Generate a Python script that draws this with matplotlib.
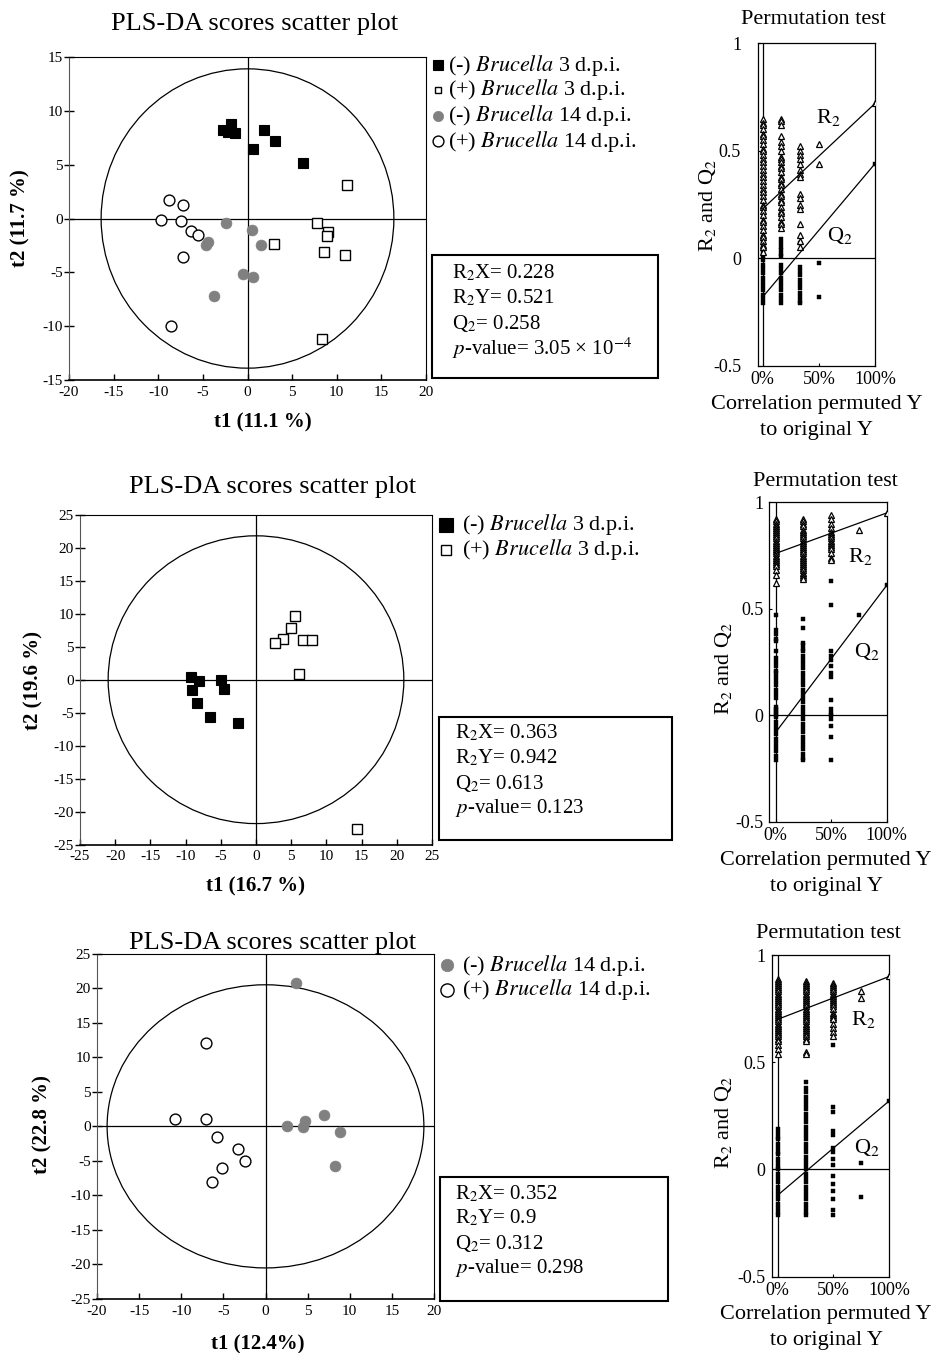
import matplotlib
matplotlib.use("Agg")
import matplotlib.pyplot as plt
from matplotlib.patches import Ellipse, Rectangle
from matplotlib.lines import Line2D

plt.rcParams['font.family'] = ['Liberation Serif', 'DejaVu Serif']
plt.rcParams['mathtext.fontset'] = 'stix'
plt.rcParams['axes.unicode_minus'] = False

W, H = 941, 1353

# ---------------- scores scatter data ----------------
top_neg3_t1 = [-2.7, -2.2, -1.9, -1.4, 1.8, 3.1, 0.6, 6.2]
top_neg3_t2 = [8.2, 8.0, 8.8, 7.9, 8.2, 7.2, 6.5, 5.2]
top_pos3_t1 = [11.2, 7.8, 9.0, 8.9, 8.6, 10.9, 3.0, 8.3]
top_pos3_t2 = [3.1, -0.4, -1.3, -1.6, -3.1, -3.4, -2.4, -11.2]
top_neg14_t1 = [-2.4, 0.5, 1.5, -4.4, -4.7, -0.5, 0.6, -3.7]
top_neg14_t2 = [-0.4, -1.1, -2.5, -2.2, -2.5, -5.2, -5.4, -7.2]
top_pos14_t1 = [-8.8, -7.2, -9.7, -7.4, -6.3, -5.5, -7.2, -8.6]
top_pos14_t2 = [1.7, 1.3, -0.1, -0.2, -1.2, -1.5, -3.6, -10.0]

mid_neg3_t1 = [-9.2, -8.1, -9.1, -8.4, -6.5, -5.0, -4.5, -2.6]
mid_neg3_t2 = [0.35, -0.15, -1.5, -3.5, -5.6, -0.1, -1.4, -6.5]
mid_pos3_t1 = [5.6, 5.0, 3.9, 2.7, 6.7, 8.0, 6.1, 14.4]
mid_pos3_t2 = [9.6, 7.8, 6.2, 5.5, 6.0, 6.0, 0.9, -22.6]

bot_neg14_t1 = [3.6, 2.5, 4.7, 4.5, 7.0, 8.8, 8.2]
bot_neg14_t2 = [20.7, 0.05, 0.8, -0.1, 1.7, -0.8, -5.7]
bot_pos14_t1 = [-7.1, -10.8, -7.1, -5.7, -3.3, -2.4, -5.2, -6.3]
bot_pos14_t2 = [12.0, 1.0, 1.0, -1.6, -3.3, -5.0, -6.0, -8.1]

# Hotelling ellipse semi-axes (t1, t2)
top_ellipse = (16.4, 13.9)
mid_ellipse = (21.0, 21.8)
bot_ellipse = (18.8, 20.5)

top_stats = ["R$_2$X= 0.228", "R$_2$Y= 0.521", "Q$_2$= 0.258",
             "$p$-value= 3.05 × 10$^{-4}$"]
mid_stats = ["R$_2$X= 0.363", "R$_2$Y= 0.942", "Q$_2$= 0.613", "$p$-value= 0.123"]
bot_stats = ["R$_2$X= 0.352", "R$_2$Y= 0.9", "Q$_2$= 0.312", "$p$-value= 0.298"]

# ---------------- permutation test data ----------------
p1_cols = [0.0, 0.16, 0.33, 0.5, 1.0]
p1_r2 = [[0.65, 0.63, 0.62, 0.6, 0.58, 0.57, 0.55, 0.53, 0.51, 0.5, 0.48, 0.46, 0.45,
          0.43, 0.41, 0.39, 0.38, 0.36, 0.34, 0.32, 0.31, 0.29, 0.27, 0.25, 0.24, 0.22,
          0.2, 0.18, 0.17, 0.15, 0.13, 0.11, 0.1, 0.08, 0.06, 0.05, 0.03],
         [0.65, 0.64, 0.62, 0.57, 0.54, 0.52, 0.5, 0.47, 0.46, 0.45, 0.43, 0.42, 0.4,
          0.38, 0.37, 0.35, 0.34, 0.32, 0.3, 0.29, 0.27, 0.26, 0.24, 0.22, 0.21, 0.19,
          0.17, 0.16, 0.14],
         [0.52, 0.5, 0.48, 0.46, 0.44, 0.41, 0.39, 0.38, 0.3, 0.28, 0.25, 0.23, 0.16,
          0.11, 0.08, 0.05],
         [0.53, 0.44],
         [0.72]]
p1_q2 = [[0.1, 0.08, 0.05, 0.03, 0.01, -0.01, -0.03, -0.05, -0.07, -0.09, -0.11, -0.13,
          -0.15, -0.17, -0.19, -0.21],
         [0.09, 0.07, 0.05, 0.04, 0.02, 0.01, -0.03, -0.05, -0.07, -0.09, -0.11, -0.13,
          -0.15, -0.17, -0.19, -0.21],
         [0.07, -0.04, -0.06, -0.08, -0.1, -0.12, -0.14, -0.16, -0.18, -0.2, -0.21],
         [-0.02, -0.18],
         [0.44]]
p1_r2_line = [0.23, 0.72]
p1_q2_line = [-0.18, 0.44]

p2_cols = [0.0, 0.25, 0.5, 0.75, 1.0]
p2_r2 = [[0.92, 0.91, 0.9, 0.89, 0.88, 0.87, 0.86, 0.85, 0.84, 0.83, 0.82, 0.81, 0.8,
          0.79, 0.78, 0.77, 0.76, 0.75, 0.74, 0.73, 0.72, 0.71, 0.7, 0.68, 0.66, 0.62],
         [0.92, 0.91, 0.9, 0.89, 0.87, 0.86, 0.85, 0.84, 0.83, 0.82, 0.81, 0.8, 0.79,
          0.78, 0.77, 0.76, 0.75, 0.74, 0.73, 0.72, 0.71, 0.7, 0.69, 0.68, 0.67, 0.66,
          0.65, 0.64],
         [0.94, 0.92, 0.9, 0.88, 0.86, 0.85, 0.84, 0.83, 0.82, 0.81, 0.8, 0.79, 0.78,
          0.76, 0.74, 0.73],
         [0.87],
         [0.95]]
p2_q2 = [[0.47, 0.4, 0.38, 0.36, 0.35, 0.3, 0.27, 0.25, 0.23, 0.21, 0.2, 0.18, 0.16,
          0.14, 0.12, 0.1, 0.08, 0.04, 0.03, 0.02, 0.01, 0.0, -0.01, -0.03, -0.05, -0.07,
          -0.09, -0.11, -0.13, -0.15, -0.17, -0.19, -0.21],
         [0.45, 0.41, 0.34, 0.33, 0.31, 0.3, 0.28, 0.26, 0.24, 0.22, 0.2, 0.18, 0.16,
          0.14, 0.12, 0.1, 0.08, 0.06, 0.04, 0.02, 0.0, -0.02, -0.04, -0.06, -0.08, -0.1,
          -0.12, -0.14, -0.16, -0.18, -0.2, -0.21],
         [0.63, 0.52, 0.3, 0.28, 0.26, 0.23, 0.2, 0.18, 0.07, 0.03, 0.01, 0.0, -0.02,
          -0.05, -0.1, -0.21],
         [0.47],
         [0.61]]
p2_r2_line = [0.76, 0.95]
p2_q2_line = [-0.08, 0.61]

p3_cols = [0.0, 0.25, 0.5, 0.75, 1.0]
p3_r2 = [[0.89, 0.88, 0.87, 0.86, 0.85, 0.84, 0.83, 0.82, 0.81, 0.8, 0.79, 0.78, 0.77,
          0.76, 0.75, 0.74, 0.73, 0.72, 0.71, 0.7, 0.69, 0.68, 0.67, 0.66, 0.65, 0.64,
          0.63, 0.62, 0.61, 0.6, 0.58, 0.56, 0.54],
         [0.88, 0.87, 0.86, 0.85, 0.84, 0.83, 0.82, 0.81, 0.8, 0.79, 0.78, 0.77, 0.76,
          0.75, 0.74, 0.73, 0.72, 0.71, 0.7, 0.69, 0.68, 0.67, 0.66, 0.65, 0.64, 0.63,
          0.62, 0.61, 0.6, 0.55, 0.54],
         [0.87, 0.86, 0.85, 0.84, 0.83, 0.82, 0.81, 0.8, 0.79, 0.78, 0.77, 0.76, 0.75,
          0.73, 0.72, 0.71, 0.7, 0.68, 0.66, 0.64, 0.62],
         [0.83, 0.8],
         [0.9]]
p3_q2 = [[0.19, 0.17, 0.15, 0.14, 0.12, 0.1, 0.08, 0.07, 0.05, 0.03, 0.01, 0.0, -0.02,
          -0.04, -0.06, -0.08, -0.1, -0.12, -0.14, -0.16, -0.18, -0.2, -0.21],
         [0.41, 0.38, 0.36, 0.34, 0.32, 0.3, 0.28, 0.26, 0.24, 0.22, 0.2, 0.18, 0.16,
          0.14, 0.12, 0.1, 0.08, 0.06, 0.04, 0.02, 0.0, -0.02, -0.04, -0.06, -0.08, -0.1,
          -0.12, -0.14, -0.16, -0.18, -0.2, -0.21],
         [0.58, 0.29, 0.27, 0.18, 0.16, 0.1, 0.08, 0.05, 0.02, -0.03, -0.07, -0.1, -0.14,
          -0.19, -0.21],
         [0.03, -0.13],
         [0.32]]
p3_r2_line = [0.70, 0.90]
p3_q2_line = [-0.12, 0.32]

GRAY = '#808080'
STY = {
    'neg3': dict(marker='s', mfc='black', mec='black', ms=7.2, mew=0.8),
    'pos3': dict(marker='s', mfc='white', mec='black', ms=7.2, mew=1.0),
    'neg14': dict(marker='o', mfc=GRAY, mec=GRAY, ms=7.8, mew=0.5),
    'pos14': dict(marker='o', mfc='white', mec='black', ms=7.8, mew=1.0),
}


def fx(x):
    return x / W


def fy(y):
    return 1 - y / H


def rect(l, t, r, b):
    return [l / W, 1 - b / H, (r - l) / W, (b - t) / H]


fig = plt.figure(figsize=(W / 100, H / 100), dpi=100)


def scatter_panel(pos, groups, ell, xlim, ylim):
    ax = fig.add_axes(pos)
    ax.add_patch(Ellipse((0, 0), 2 * ell[0], 2 * ell[1], fill=False, ec='black', lw=0.9, zorder=2))
    ax.axhline(0, color='black', lw=0.9, zorder=1)
    ax.axvline(0, color='black', lw=0.9, zorder=1)
    for t1, t2, key in groups:
        ax.plot(t1, t2, ls='none', zorder=3, **STY[key])
    ax.set_xlim(*xlim)
    ax.set_ylim(*ylim)
    ax.set_xticks(range(xlim[0], xlim[1] + 1, 5))
    ax.set_yticks(range(ylim[0], ylim[1] + 1, 5))
    ax.tick_params(axis='x', direction='in', length=4, width=1, labelsize=11, pad=4)
    ax.tick_params(axis='y', direction='inout', length=7, width=1, labelsize=11, pad=1)
    for s in ax.spines.values():
        s.set_linewidth(0.8)
    ax.spines['left'].set_color('#555555')
    ax.spines['bottom'].set_linewidth(1.2)
    return ax


def perm_panel(pos, cols, r2, q2, r2_line, q2_line, x0, ypad):
    ax = fig.add_axes(pos)
    ax.axhline(0, color='black', lw=0.9)
    ax.axvline(0, color='black', lw=0.9)
    for x, vals in zip(cols, q2):
        ax.plot([x] * len(vals), vals, ls='none', marker='s', ms=2.8, mfc='black',
                mec='black', mew=0.3, zorder=3)
    for x, vals in zip(cols, r2):
        ax.plot([x] * len(vals), vals, ls='none', marker='^', ms=4.4, mfc='white',
                mec='black', mew=0.9, zorder=3)
    ax.plot([0, 1], r2_line, color='black', lw=0.9, zorder=4)
    ax.plot([0, 1], q2_line, color='black', lw=0.9, zorder=4)
    ax.set_xlim(x0, 1.0)
    ax.set_ylim(-0.5, 1.0)
    ax.set_xticks([0, 0.5, 1.0])
    ax.set_xticklabels(['0%', '50%', '100%'])
    ax.set_yticks([-0.5, 0, 0.5, 1.0])
    ax.set_yticklabels(['-0.5', '0', '0.5', '1'])
    ax.tick_params(axis='both', direction='in', length=2, labelsize=13)
    ax.tick_params(axis='y', pad=ypad)
    ax.tick_params(axis='x', pad=4)
    for s in ax.spines.values():
        s.set_linewidth(0.9)
    return ax


# ---------- top row ----------
scatter_panel(rect(69, 57, 426, 380),
              [(top_neg3_t1, top_neg3_t2, 'neg3'), (top_pos3_t1, top_pos3_t2, 'pos3'),
               (top_neg14_t1, top_neg14_t2, 'neg14'), (top_pos14_t1, top_pos14_t2, 'pos14')],
              top_ellipse, (-20, 20), (-15, 15))
perm_panel(rect(757.7, 43.3, 875, 365.7), p1_cols, p1_r2, p1_q2, p1_r2_line, p1_q2_line,
           -0.045, 12)

# ---------- middle row ----------
scatter_panel(rect(80, 514.7, 432, 844.7),
              [(mid_neg3_t1, mid_neg3_t2, 'neg3'), (mid_pos3_t1, mid_pos3_t2, 'pos3')],
              mid_ellipse, (-25, 25), (-25, 25))
perm_panel(rect(769.3, 502.3, 886.7, 821.7), p2_cols, p2_r2, p2_q2, p2_r2_line, p2_q2_line,
           -0.058, 4)

# ---------- bottom row ----------
scatter_panel(rect(97, 953.7, 434, 1299),
              [(bot_neg14_t1, bot_neg14_t2, 'neg14'), (bot_pos14_t1, bot_pos14_t2, 'pos14')],
              bot_ellipse, (-20, 20), (-25, 25))
perm_panel(rect(772.3, 955, 889.3, 1276.7), p3_cols, p3_r2, p3_q2, p3_r2_line, p3_q2_line,
           -0.048, 5)

# ---------- titles and labels ----------
for (x, y) in [(255, 24), (273, 487), (273, 943)]:
    fig.text(fx(x), fy(y), "PLS-DA scores scatter plot", fontsize=19, ha='center', va='center')

for (x, y, s) in [(263, 422, "t1 (11.1 %)"), (256, 886, "t1 (16.7 %)"), (258, 1344, "t1 (12.4%)")]:
    fig.text(fx(x), fy(y), s, fontsize=15, fontweight='bold', ha='center', va='center')
for (x, y, s) in [(20, 218, "t2 (11.7 %)"), (33, 680, "t2 (19.6 %)"), (42, 1125, "t2 (22.8 %)")]:
    fig.text(fx(x), fy(y), s, fontsize=15, fontweight='bold', ha='center', va='center',
             rotation=90)

# permutation labels
for (x, y) in [(813, 19), (825, 481), (828, 934)]:
    fig.text(fx(x), fy(y), "Permutation test", fontsize=16, ha='center', va='center')
for (x, y) in [(817, 404), (826, 860), (826, 1315)]:
    fig.text(fx(x), fy(y), "Correlation permuted Y", fontsize=16, ha='center', va='center')
    fig.text(fx(x), fy(y + 26), "to original Y", fontsize=16, ha='center', va='center')
for (x, y) in [(708, 205), (723, 668), (723, 1122)]:
    fig.text(fx(x), fy(y), "R$_2$ and Q$_2$", fontsize=16, ha='center', va='center',
             rotation=90)
for (x, y, s) in [(828, 118, "R$_2$"), (840, 235, "Q$_2$"), (860, 557, "R$_2$"),
                  (867, 652, "Q$_2$"), (863, 1020, "R$_2$"), (867, 1147, "Q$_2$")]:
    fig.text(fx(x), fy(y), s, fontsize=16, ha='center', va='center')

# ---------- legends ----------
LAB = {
    'neg3': "(-) $\\mathit{Brucella}$ 3 d.p.i.",
    'pos3': "(+) $\\mathit{Brucella}$ 3 d.p.i.",
    'neg14': "(-) $\\mathit{Brucella}$ 14 d.p.i.",
    'pos14': "(+) $\\mathit{Brucella}$ 14 d.p.i.",
}


def legend_row(mx, tx, y, key, ms):
    st = dict(STY[key])
    st['ms'] = ms
    fig.add_artist(Line2D([fx(mx)], [fy(y)], transform=fig.transFigure, ls='none', **st))
    fig.text(fx(tx), fy(y), LAB[key], fontsize=16, ha='left', va='center')


legend_row(438, 448, 65, 'neg3', 7.2)
legend_row(438, 448, 90, 'pos3', 5.0)
legend_row(438, 448, 116, 'neg14', 7.4)
legend_row(438, 448, 141, 'pos14', 7.8)
legend_row(446, 462, 525, 'neg3', 10)
legend_row(446, 462, 550, 'pos3', 6.5)
legend_row(447, 462, 965, 'neg14', 9)
legend_row(447, 462, 990, 'pos14', 9.5)

# ---------- stats boxes ----------
for (l, t, r, b, tx, ys, lines) in [
        (432, 255, 658, 378, 452, [273, 298, 323, 348], top_stats),
        (439, 717, 672, 840, 455, [733, 758, 783, 808], mid_stats),
        (440, 1177, 668, 1301, 455, [1194, 1218, 1243, 1268], bot_stats)]:
    fig.add_artist(Rectangle((fx(l), fy(b)), (r - l) / W, (b - t) / H, fill=False,
                             ec='black', lw=1.5, transform=fig.transFigure))
    for yy, s in zip(ys, lines):
        fig.text(fx(tx), fy(yy), s, fontsize=15, ha='left', va='center')

fig.savefig("out.png", dpi=100)
